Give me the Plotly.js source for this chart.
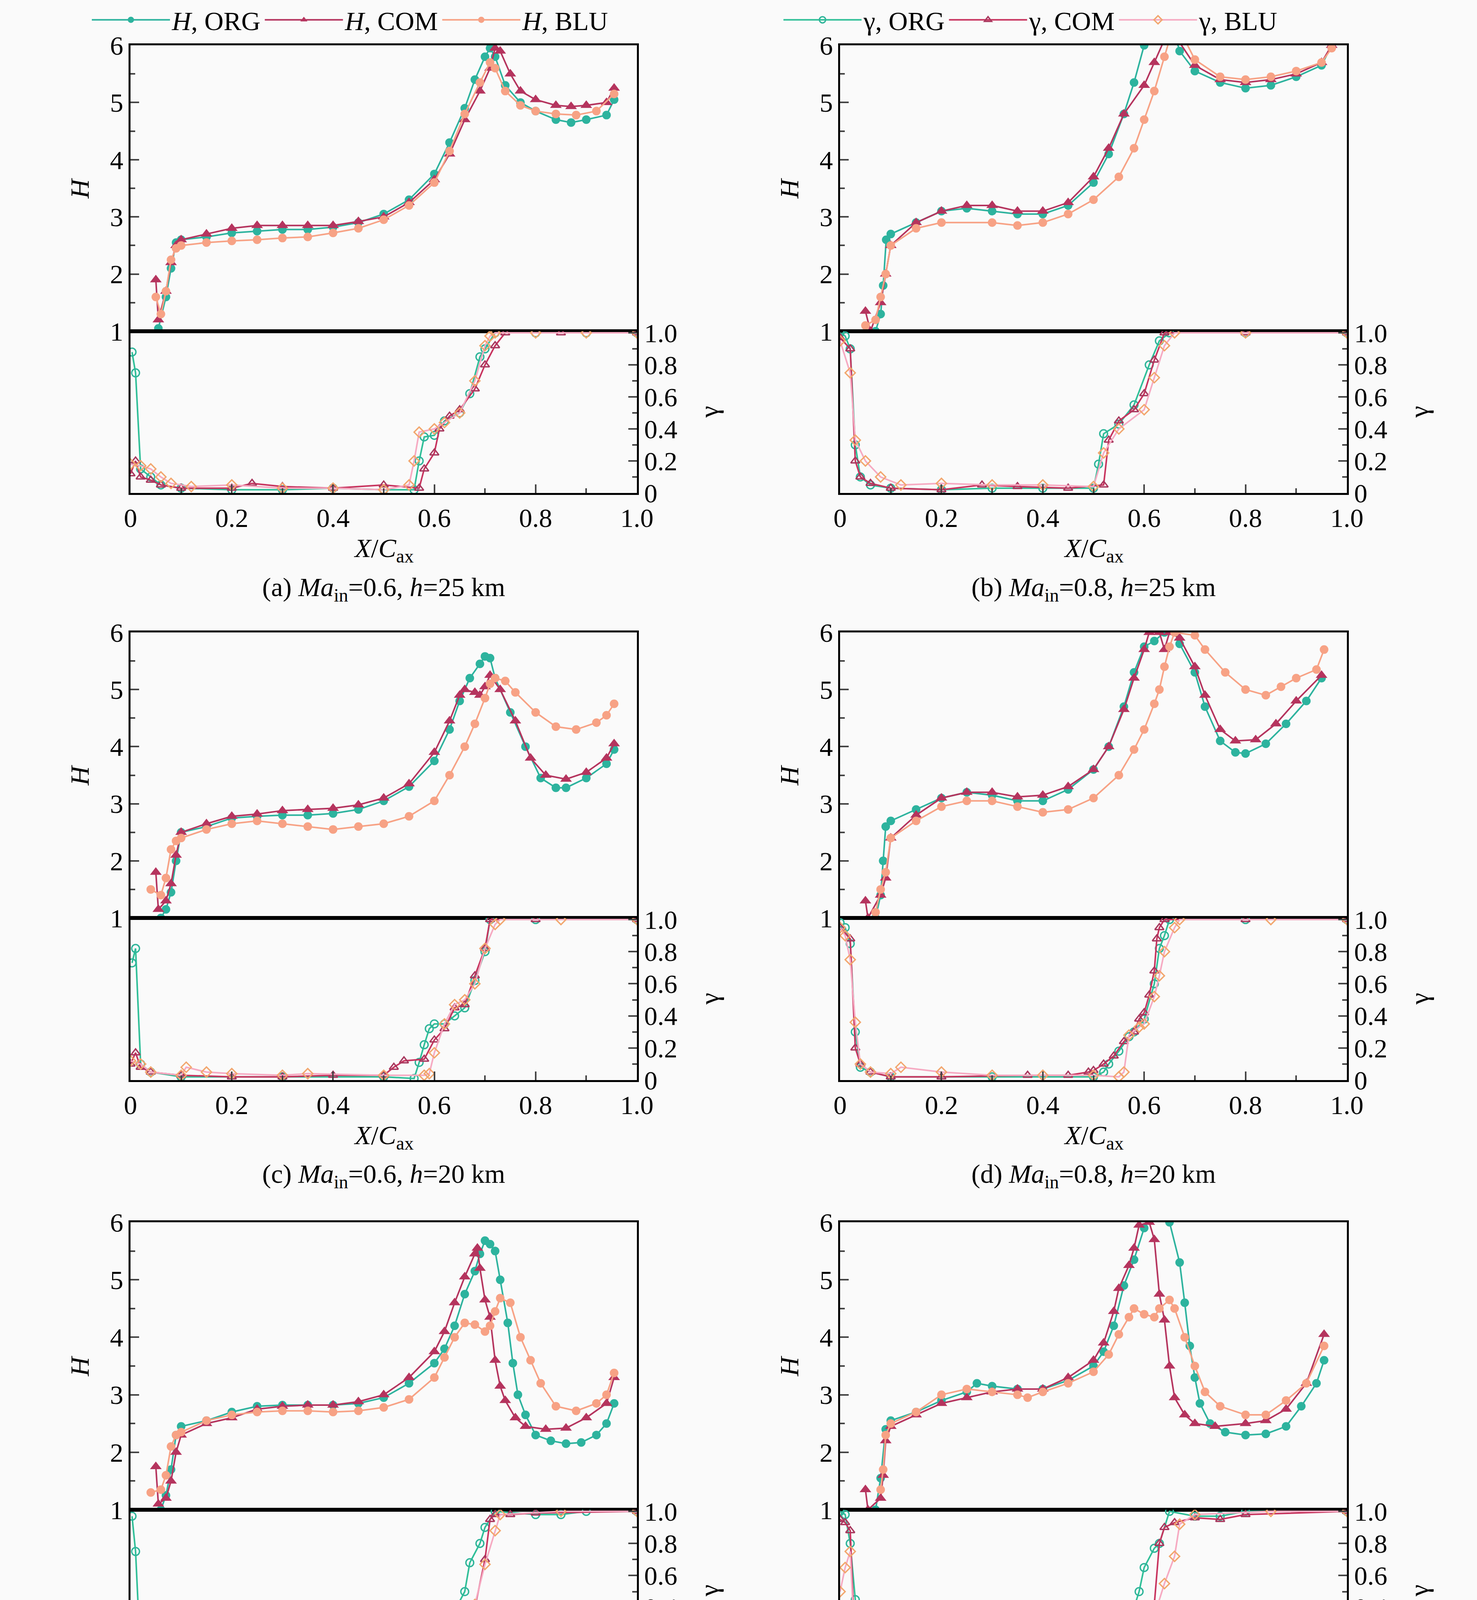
<!DOCTYPE html>
<html>
<head>
<meta charset="utf-8">
<script src="https://cdn.plot.ly/plotly-3.0.1.min.js"></script>
<style>
  html, body { margin: 0; padding: 0; background: #fafafa; }
  #chart { width: 3780px; height: 6071px; }
</style>
</head>
<body>
<div id="chart"></div>
<script>
// ---- data: [X/Cax, value] ----
// (a) Ma=0.6, h=25 km
const aHorg = [[0.055,1.05],[0.07,1.6],[0.08,2.1],[0.09,2.55],[0.1,2.6],[0.15,2.65],[0.2,2.72],[0.25,2.75],[0.3,2.78],[0.35,2.78],[0.4,2.82],[0.45,2.9],[0.5,3.05],[0.55,3.3],[0.6,3.75],[0.63,4.3],[0.66,4.9],[0.68,5.4],[0.7,5.8],[0.71,5.95],[0.72,5.8],[0.74,5.3],[0.77,5.0],[0.8,4.85],[0.84,4.7],[0.87,4.65],[0.9,4.7],[0.94,4.78],[0.955,5.05]];
const aHcom = [[0.05,1.9],[0.055,1.2],[0.07,1.7],[0.08,2.2],[0.09,2.5],[0.1,2.6],[0.15,2.7],[0.2,2.8],[0.25,2.85],[0.3,2.85],[0.35,2.85],[0.4,2.85],[0.45,2.92],[0.5,3.0],[0.55,3.25],[0.6,3.65],[0.63,4.1],[0.66,4.7],[0.69,5.2],[0.71,5.6],[0.72,5.95],[0.73,5.9],[0.75,5.5],[0.77,5.2],[0.8,5.05],[0.84,4.95],[0.87,4.93],[0.9,4.95],[0.94,5.0],[0.955,5.25]];
const aHblu = [[0.05,1.6],[0.06,1.3],[0.07,1.7],[0.08,2.25],[0.09,2.45],[0.1,2.5],[0.15,2.55],[0.2,2.58],[0.25,2.6],[0.3,2.63],[0.35,2.65],[0.4,2.72],[0.45,2.8],[0.5,2.95],[0.55,3.2],[0.6,3.6],[0.63,4.15],[0.66,4.8],[0.69,5.35],[0.71,5.7],[0.72,5.6],[0.74,5.2],[0.77,4.95],[0.8,4.85],[0.84,4.8],[0.88,4.78],[0.92,4.85],[0.955,5.15]];
const aGorg = [[0.003,0.88],[0.01,0.75],[0.02,0.15],[0.04,0.1],[0.06,0.05],[0.1,0.03],[0.2,0.02],[0.3,0.02],[0.4,0.03],[0.5,0.02],[0.56,0.02],[0.57,0.2],[0.58,0.35],[0.6,0.36],[0.62,0.45],[0.65,0.5],[0.67,0.62],[0.69,0.85],[0.7,0.9],[0.72,1.0],[0.8,1.0],[0.9,1.0],[1.0,1.0]];
const aGcom = [[0.0,0.12],[0.01,0.2],[0.02,0.1],[0.04,0.08],[0.06,0.05],[0.1,0.03],[0.2,0.03],[0.24,0.06],[0.3,0.04],[0.4,0.03],[0.5,0.05],[0.57,0.03],[0.58,0.15],[0.6,0.25],[0.61,0.4],[0.63,0.48],[0.65,0.52],[0.68,0.65],[0.7,0.8],[0.72,0.92],[0.74,1.0],[0.85,1.0],[1.0,1.0]];
const aGblu = [[0.0,0.18],[0.02,0.17],[0.04,0.15],[0.06,0.1],[0.08,0.06],[0.12,0.04],[0.2,0.05],[0.3,0.03],[0.4,0.03],[0.5,0.02],[0.55,0.05],[0.56,0.2],[0.57,0.38],[0.6,0.4],[0.62,0.44],[0.65,0.5],[0.68,0.7],[0.7,0.92],[0.71,0.98],[0.72,1.0],[0.8,1.0],[0.9,1.0],[1.0,1.0]];
// (b) Ma=0.8, h=25 km
const bHorg = [[0.07,1.0],[0.08,1.3],[0.085,1.8],[0.091,2.6],[0.1,2.7],[0.15,2.9],[0.2,3.1],[0.25,3.15],[0.3,3.1],[0.35,3.05],[0.4,3.05],[0.45,3.2],[0.5,3.6],[0.53,4.1],[0.56,4.8],[0.58,5.35],[0.6,6.0],[0.63,6.5],[0.66,6.2],[0.67,5.9],[0.7,5.55],[0.75,5.35],[0.8,5.25],[0.85,5.3],[0.9,5.45],[0.95,5.65],[0.97,6.0]];
const bHcom = [[0.05,1.35],[0.06,1.0],[0.08,1.5],[0.09,2.0],[0.1,2.5],[0.15,2.9],[0.2,3.1],[0.25,3.2],[0.3,3.2],[0.35,3.1],[0.4,3.1],[0.45,3.25],[0.5,3.7],[0.53,4.2],[0.56,4.8],[0.6,5.3],[0.62,5.7],[0.64,6.1],[0.66,6.3],[0.67,6.05],[0.7,5.65],[0.75,5.4],[0.8,5.35],[0.85,5.4],[0.9,5.5],[0.95,5.7],[0.97,6.0]];
const bHblu = [[0.05,1.1],[0.07,1.2],[0.08,1.6],[0.09,2.0],[0.1,2.5],[0.15,2.8],[0.2,2.9],[0.3,2.9],[0.35,2.85],[0.4,2.9],[0.45,3.05],[0.5,3.3],[0.55,3.7],[0.58,4.2],[0.6,4.7],[0.62,5.2],[0.64,5.8],[0.65,6.1],[0.68,6.1],[0.7,5.75],[0.75,5.45],[0.8,5.4],[0.85,5.45],[0.9,5.55],[0.95,5.7],[0.97,5.95]];
const bGorg = [[0.0,1.0],[0.01,0.98],[0.02,0.9],[0.03,0.3],[0.04,0.1],[0.06,0.05],[0.1,0.03],[0.2,0.02],[0.3,0.03],[0.4,0.03],[0.5,0.03],[0.51,0.18],[0.52,0.37],[0.55,0.43],[0.58,0.55],[0.61,0.8],[0.63,0.95],[0.65,1.0],[0.8,1.0],[1.0,1.0]];
const bGcom = [[0.0,0.97],[0.02,0.9],[0.03,0.2],[0.04,0.1],[0.06,0.06],[0.1,0.03],[0.2,0.02],[0.28,0.05],[0.35,0.04],[0.45,0.03],[0.52,0.05],[0.53,0.33],[0.55,0.45],[0.58,0.52],[0.6,0.62],[0.62,0.83],[0.64,1.0],[0.8,1.0],[1.0,1.0]];
const bGblu = [[0.0,0.95],[0.02,0.75],[0.03,0.33],[0.05,0.2],[0.08,0.1],[0.12,0.05],[0.2,0.06],[0.3,0.05],[0.4,0.05],[0.5,0.04],[0.52,0.25],[0.55,0.4],[0.6,0.52],[0.62,0.72],[0.64,0.92],[0.66,1.0],[0.8,1.0],[1.0,1.0]];
// (c) Ma=0.6, h=20 km
const cHorg = [[0.06,1.0],[0.07,1.15],[0.08,1.45],[0.09,2.0],[0.1,2.5],[0.15,2.6],[0.2,2.75],[0.25,2.78],[0.3,2.8],[0.35,2.8],[0.4,2.83],[0.45,2.9],[0.5,3.05],[0.55,3.3],[0.6,3.75],[0.63,4.3],[0.65,4.8],[0.67,5.2],[0.69,5.45],[0.7,5.58],[0.71,5.55],[0.72,5.2],[0.75,4.6],[0.78,4.0],[0.81,3.45],[0.84,3.28],[0.86,3.28],[0.9,3.45],[0.94,3.7],[0.955,3.95]];
const cHcom = [[0.05,1.8],[0.055,1.15],[0.07,1.3],[0.08,1.6],[0.09,2.1],[0.1,2.5],[0.15,2.65],[0.2,2.78],[0.25,2.82],[0.3,2.88],[0.35,2.9],[0.4,2.92],[0.45,2.98],[0.5,3.1],[0.55,3.35],[0.6,3.9],[0.63,4.45],[0.65,4.9],[0.66,5.0],[0.68,4.95],[0.69,4.9],[0.7,5.05],[0.71,5.25],[0.73,5.0],[0.76,4.45],[0.79,3.8],[0.82,3.5],[0.86,3.43],[0.9,3.55],[0.94,3.8],[0.955,4.05]];
const cHblu = [[0.04,1.5],[0.06,1.4],[0.07,1.7],[0.08,2.2],[0.09,2.35],[0.1,2.4],[0.15,2.55],[0.2,2.65],[0.25,2.7],[0.3,2.65],[0.35,2.6],[0.4,2.55],[0.45,2.6],[0.5,2.65],[0.55,2.78],[0.6,3.05],[0.63,3.5],[0.66,4.0],[0.68,4.4],[0.7,4.85],[0.71,5.1],[0.72,5.2],[0.74,5.15],[0.76,4.95],[0.8,4.6],[0.84,4.35],[0.88,4.3],[0.92,4.42],[0.94,4.55],[0.955,4.75]];
const cGorg = [[0.003,0.73],[0.01,0.82],[0.02,0.1],[0.04,0.05],[0.1,0.02],[0.3,0.02],[0.5,0.02],[0.56,0.01],[0.57,0.11],[0.58,0.22],[0.59,0.32],[0.6,0.35],[0.62,0.35],[0.64,0.4],[0.66,0.45],[0.68,0.62],[0.7,0.8],[0.71,1.0],[0.8,1.0],[1.0,1.0]];
const cGcom = [[0.0,0.1],[0.01,0.17],[0.02,0.08],[0.04,0.05],[0.1,0.03],[0.2,0.02],[0.3,0.02],[0.4,0.03],[0.5,0.03],[0.52,0.08],[0.54,0.12],[0.58,0.13],[0.6,0.25],[0.62,0.32],[0.64,0.45],[0.66,0.47],[0.68,0.65],[0.7,0.82],[0.71,1.0],[0.8,1.0],[1.0,1.0]];
const cGblu = [[0.0,0.12],[0.02,0.1],[0.04,0.05],[0.1,0.03],[0.11,0.08],[0.15,0.05],[0.2,0.04],[0.3,0.03],[0.35,0.04],[0.5,0.03],[0.58,0.03],[0.59,0.04],[0.6,0.17],[0.62,0.35],[0.64,0.47],[0.66,0.5],[0.68,0.6],[0.7,0.82],[0.72,0.97],[0.73,1.0],[0.85,1.0],[1.0,1.0]];
// (d) Ma=0.8, h=20 km
const dHorg = [[0.07,1.0],[0.08,1.4],[0.085,2.0],[0.09,2.6],[0.1,2.7],[0.15,2.9],[0.2,3.1],[0.25,3.2],[0.3,3.15],[0.35,3.05],[0.4,3.05],[0.45,3.25],[0.5,3.6],[0.53,4.0],[0.56,4.7],[0.58,5.3],[0.6,5.75],[0.62,5.85],[0.64,6.0],[0.66,6.0],[0.67,5.8],[0.7,5.3],[0.72,4.7],[0.75,4.1],[0.78,3.9],[0.8,3.88],[0.84,4.05],[0.88,4.4],[0.92,4.8],[0.95,5.2]];
const dHcom = [[0.05,1.3],[0.055,1.0],[0.08,1.4],[0.09,1.7],[0.1,2.4],[0.15,2.8],[0.2,3.1],[0.25,3.2],[0.3,3.2],[0.35,3.12],[0.4,3.15],[0.45,3.3],[0.5,3.6],[0.53,4.0],[0.56,4.65],[0.58,5.2],[0.6,5.7],[0.61,6.0],[0.63,6.0],[0.64,5.7],[0.65,6.0],[0.67,5.9],[0.7,5.4],[0.72,4.9],[0.75,4.3],[0.78,4.1],[0.82,4.12],[0.86,4.4],[0.9,4.8],[0.95,5.25]];
const dHblu = [[0.07,1.1],[0.08,1.5],[0.09,1.8],[0.1,2.4],[0.15,2.7],[0.2,2.95],[0.25,3.05],[0.3,3.05],[0.35,2.95],[0.4,2.85],[0.45,2.9],[0.5,3.1],[0.55,3.5],[0.58,3.95],[0.6,4.3],[0.62,4.75],[0.63,5.0],[0.64,5.4],[0.65,5.75],[0.66,6.0],[0.7,5.95],[0.72,5.7],[0.76,5.3],[0.8,5.0],[0.84,4.9],[0.87,5.05],[0.9,5.2],[0.94,5.35],[0.955,5.7]];
const dGorg = [[0.0,0.98],[0.01,0.95],[0.02,0.85],[0.03,0.3],[0.04,0.08],[0.06,0.05],[0.1,0.02],[0.3,0.02],[0.5,0.02],[0.52,0.05],[0.53,0.1],[0.55,0.18],[0.57,0.27],[0.58,0.3],[0.6,0.38],[0.62,0.6],[0.63,0.82],[0.64,0.9],[0.65,1.0],[0.8,1.0],[1.0,1.0]];
const dGcom = [[0.0,0.95],[0.02,0.88],[0.03,0.2],[0.04,0.1],[0.06,0.05],[0.1,0.02],[0.2,0.02],[0.37,0.03],[0.45,0.03],[0.49,0.05],[0.5,0.06],[0.52,0.1],[0.54,0.15],[0.56,0.24],[0.58,0.3],[0.59,0.38],[0.6,0.42],[0.61,0.53],[0.62,0.68],[0.625,0.88],[0.63,0.95],[0.64,1.0],[0.8,1.0],[1.0,1.0]];
const dGblu = [[0.0,0.95],[0.01,0.9],[0.02,0.75],[0.03,0.36],[0.04,0.1],[0.06,0.05],[0.1,0.04],[0.12,0.08],[0.2,0.05],[0.3,0.03],[0.4,0.03],[0.5,0.03],[0.55,0.02],[0.56,0.05],[0.57,0.28],[0.59,0.33],[0.6,0.35],[0.62,0.52],[0.63,0.65],[0.64,0.8],[0.66,0.95],[0.67,1.0],[0.85,1.0],[1.0,1.0]];
// (e) Ma=0.6, h=15 km
const eHorg = [[0.06,1.0],[0.07,1.25],[0.08,1.7],[0.09,2.3],[0.1,2.45],[0.15,2.55],[0.2,2.7],[0.25,2.8],[0.3,2.82],[0.35,2.82],[0.4,2.82],[0.45,2.85],[0.5,2.95],[0.55,3.2],[0.6,3.55],[0.62,3.8],[0.64,4.2],[0.66,4.75],[0.68,5.15],[0.69,5.45],[0.7,5.68],[0.71,5.62],[0.72,5.5],[0.73,5.0],[0.745,4.25],[0.755,3.55],[0.765,3.0],[0.78,2.65],[0.8,2.3],[0.83,2.2],[0.86,2.15],[0.89,2.17],[0.92,2.3],[0.94,2.5],[0.955,2.85]];
const eHcom = [[0.05,1.75],[0.055,1.1],[0.07,1.2],[0.08,1.5],[0.09,2.0],[0.1,2.3],[0.15,2.5],[0.2,2.6],[0.25,2.75],[0.3,2.8],[0.35,2.82],[0.4,2.82],[0.45,2.88],[0.5,3.0],[0.55,3.3],[0.6,3.75],[0.62,4.1],[0.64,4.6],[0.66,5.05],[0.68,5.45],[0.685,5.55],[0.69,5.2],[0.7,4.65],[0.71,4.35],[0.72,3.6],[0.73,3.15],[0.74,2.9],[0.76,2.6],[0.78,2.45],[0.82,2.4],[0.86,2.42],[0.9,2.6],[0.94,2.85],[0.955,3.3]];
const eHblu = [[0.04,1.3],[0.06,1.35],[0.07,1.6],[0.08,2.1],[0.09,2.3],[0.1,2.35],[0.15,2.55],[0.2,2.65],[0.25,2.7],[0.3,2.72],[0.35,2.72],[0.4,2.7],[0.45,2.72],[0.5,2.78],[0.55,2.92],[0.6,3.3],[0.62,3.65],[0.64,4.0],[0.66,4.25],[0.68,4.22],[0.7,4.1],[0.71,4.2],[0.72,4.45],[0.73,4.68],[0.75,4.6],[0.77,4.0],[0.79,3.6],[0.81,3.2],[0.84,2.8],[0.88,2.72],[0.92,2.85],[0.94,3.0],[0.955,3.38]];
const eGorg = [[0.003,0.97],[0.01,0.75],[0.02,0.08],[0.04,0.03],[0.1,0.02],[0.3,0.01],[0.5,0.01],[0.54,0.02],[0.56,0.06],[0.6,0.12],[0.62,0.22],[0.64,0.38],[0.66,0.5],[0.67,0.68],[0.69,0.8],[0.7,0.9],[0.72,1.0],[0.8,0.98],[0.85,0.98],[0.9,1.0],[1.0,1.0]];
const eGcom = [[0.0,0.05],[0.01,0.2],[0.02,0.15],[0.04,0.05],[0.1,0.02],[0.2,0.02],[0.3,0.02],[0.5,0.01],[0.53,0.05],[0.55,0.12],[0.58,0.15],[0.6,0.16],[0.62,0.2],[0.64,0.28],[0.66,0.33],[0.68,0.4],[0.7,0.7],[0.71,0.95],[0.72,0.98],[0.75,0.98],[0.8,0.99],[1.0,1.0]];
const eGblu = [[0.0,0.1],[0.02,0.08],[0.04,0.04],[0.06,0.03],[0.1,0.03],[0.2,0.04],[0.3,0.03],[0.5,0.02],[0.55,0.02],[0.6,0.06],[0.62,0.16],[0.64,0.2],[0.66,0.25],[0.68,0.42],[0.7,0.67],[0.72,0.88],[0.73,0.98],[0.85,1.0],[1.0,1.0]];
// (f) Ma=0.8, h=15 km
const fHorg = [[0.07,1.0],[0.08,1.55],[0.09,2.4],[0.1,2.55],[0.15,2.7],[0.2,2.9],[0.25,3.05],[0.27,3.2],[0.3,3.15],[0.35,3.1],[0.4,3.1],[0.45,3.25],[0.5,3.5],[0.52,3.75],[0.54,4.2],[0.56,4.9],[0.58,5.35],[0.6,5.9],[0.61,6.1],[0.64,6.5],[0.65,6.0],[0.67,5.3],[0.68,4.6],[0.69,3.85],[0.7,3.3],[0.71,2.85],[0.73,2.5],[0.76,2.35],[0.8,2.3],[0.84,2.32],[0.88,2.45],[0.91,2.8],[0.94,3.2],[0.955,3.6]];
const fHcom = [[0.05,1.35],[0.055,1.0],[0.08,1.2],[0.085,1.6],[0.09,2.2],[0.1,2.45],[0.15,2.65],[0.2,2.85],[0.25,2.95],[0.3,3.05],[0.35,3.1],[0.4,3.1],[0.45,3.3],[0.5,3.6],[0.52,3.9],[0.54,4.45],[0.55,4.85],[0.57,5.25],[0.58,5.55],[0.59,5.95],[0.61,6.0],[0.62,5.7],[0.63,4.75],[0.64,4.3],[0.65,3.5],[0.66,2.95],[0.68,2.65],[0.7,2.5],[0.74,2.45],[0.8,2.5],[0.84,2.55],[0.88,2.75],[0.92,3.2],[0.955,4.05]];
const fHblu = [[0.08,1.35],[0.085,1.7],[0.09,2.3],[0.1,2.5],[0.15,2.7],[0.2,3.0],[0.25,3.1],[0.3,3.05],[0.35,3.0],[0.37,2.95],[0.4,3.05],[0.45,3.2],[0.5,3.4],[0.53,3.7],[0.55,4.05],[0.57,4.35],[0.58,4.5],[0.6,4.4],[0.62,4.35],[0.63,4.5],[0.65,4.65],[0.66,4.5],[0.68,4.0],[0.7,3.5],[0.72,3.05],[0.75,2.8],[0.8,2.65],[0.84,2.65],[0.88,2.9],[0.92,3.2],[0.955,3.85]];
const fGorg = [[0.0,1.0],[0.01,0.98],[0.02,0.8],[0.03,0.45],[0.035,0.12],[0.05,0.05],[0.1,0.03],[0.3,0.01],[0.45,0.01],[0.5,0.01],[0.53,0.1],[0.55,0.2],[0.57,0.3],[0.59,0.5],[0.6,0.65],[0.62,0.77],[0.63,0.8],[0.65,1.0],[0.7,0.97],[0.75,0.97],[0.8,1.0],[1.0,1.0]];
const fGcom = [[0.0,0.95],[0.01,0.93],[0.02,0.88],[0.03,0.1],[0.05,0.05],[0.1,0.02],[0.3,0.02],[0.45,0.02],[0.5,0.04],[0.52,0.15],[0.54,0.17],[0.56,0.25],[0.58,0.36],[0.6,0.38],[0.62,0.42],[0.63,0.8],[0.64,0.9],[0.66,0.93],[0.7,0.96],[0.75,0.95],[0.8,0.98],[1.0,1.0]];
const fGblu = [[0.0,0.5],[0.01,0.65],[0.02,0.75],[0.03,0.1],[0.05,0.05],[0.1,0.03],[0.2,0.02],[0.25,0.04],[0.3,0.04],[0.4,0.03],[0.48,0.02],[0.5,0.05],[0.53,0.07],[0.55,0.12],[0.57,0.18],[0.6,0.22],[0.62,0.35],[0.64,0.55],[0.66,0.72],[0.67,0.92],[0.7,0.98],[0.85,1.0],[1.0,1.0]];
// (g) Ma=0.6, h=10 km
const gHorg = [[0.07,1.0],[0.075,1.45],[0.08,2.2],[0.09,2.35],[0.1,2.35],[0.15,2.5],[0.2,2.6],[0.25,2.65],[0.3,2.75],[0.35,2.78],[0.4,2.85],[0.45,2.95],[0.5,3.1],[0.55,3.35],[0.58,3.75],[0.6,4.1],[0.62,4.5],[0.64,4.95],[0.66,5.08],[0.67,5.08],[0.68,4.8],[0.69,3.85],[0.7,2.85],[0.71,2.45],[0.72,2.25],[0.74,2.05],[0.78,1.95],[0.82,1.92],[0.86,1.95],[0.9,1.92],[0.94,2.15],[0.955,2.55]];
const gHcom = [[0.05,1.7],[0.055,1.05],[0.07,1.3],[0.08,1.85],[0.09,2.1],[0.1,2.2],[0.15,2.35],[0.2,2.55],[0.25,2.7],[0.3,2.72],[0.35,2.75],[0.4,2.85],[0.45,2.95],[0.5,3.1],[0.55,3.4],[0.58,3.8],[0.6,4.2],[0.62,4.65],[0.64,4.88],[0.66,4.88],[0.67,4.2],[0.68,3.3],[0.69,2.55],[0.7,2.25],[0.72,2.0],[0.76,1.92],[0.8,1.88],[0.86,1.88],[0.9,1.88],[0.94,2.1],[0.955,2.5]];
const gHblu = [[0.05,1.15],[0.06,1.3],[0.07,1.55],[0.08,2.0],[0.09,2.15],[0.1,2.2],[0.15,2.4],[0.2,2.6],[0.25,2.75],[0.3,2.78],[0.35,2.78],[0.4,2.8],[0.45,2.9],[0.5,3.0],[0.55,3.25],[0.58,3.5],[0.6,3.75],[0.62,3.85],[0.64,3.95],[0.65,3.85],[0.66,3.3],[0.67,2.5],[0.68,2.2],[0.7,2.05],[0.74,1.98],[0.8,2.0],[0.86,2.02],[0.9,2.05],[0.93,2.3],[0.955,2.83]];
const gGorg = [[0.003,0.56],[0.01,0.7],[0.02,0.1],[0.04,0.04],[0.08,0.02],[0.2,0.01],[0.3,0.01],[0.4,0.01],[0.46,0.01],[0.5,0.05],[0.52,0.1],[0.56,0.12],[0.6,0.13],[0.62,0.25],[0.64,0.33],[0.66,0.42],[0.68,0.45],[0.69,0.5],[0.7,0.72],[0.71,0.89],[0.72,0.8],[0.74,0.86],[0.78,0.86],[0.8,0.9],[0.84,0.98],[0.9,1.0],[1.0,1.0]];
const gGcom = [[0.0,0.1],[0.01,0.13],[0.03,0.06],[0.06,0.02],[0.2,0.01],[0.3,0.01],[0.4,0.03],[0.46,0.03],[0.5,0.1],[0.55,0.15],[0.58,0.18],[0.6,0.3],[0.62,0.47],[0.64,0.55],[0.66,0.65],[0.67,0.67],[0.68,0.6],[0.69,0.85],[0.7,0.95],[0.72,0.93],[0.76,0.96],[0.8,0.96],[0.82,0.98],[0.84,1.0],[1.0,1.0]];
const gGblu = [[0.0,0.08],[0.02,0.08],[0.04,0.04],[0.1,0.02],[0.2,0.02],[0.3,0.02],[0.35,0.05],[0.4,0.07],[0.45,0.09],[0.5,0.1],[0.55,0.1],[0.6,0.12],[0.64,0.17],[0.66,0.21],[0.68,0.33],[0.7,0.65],[0.72,0.75],[0.76,0.8],[0.8,0.88],[0.84,0.98],[0.9,1.0],[1.0,1.0]];
// (h) Ma=0.8, h=10 km
const hHorg = [[0.08,1.0],[0.085,1.25],[0.09,2.4],[0.1,2.55],[0.12,2.6],[0.15,2.75],[0.17,2.85],[0.2,2.95],[0.25,3.05],[0.3,3.1],[0.35,3.05],[0.4,3.05],[0.43,3.2],[0.45,3.35],[0.48,3.55],[0.5,3.85],[0.52,4.25],[0.54,4.75],[0.56,5.25],[0.58,5.65],[0.59,5.85],[0.6,5.75],[0.61,4.85],[0.62,3.5],[0.63,2.8],[0.64,2.5],[0.66,2.3],[0.7,2.1],[0.75,2.05],[0.8,2.05],[0.85,2.05],[0.9,2.15],[0.93,2.4],[0.955,3.15]];
const hHcom = [[0.05,1.3],[0.055,1.0],[0.08,1.0],[0.085,1.4],[0.09,2.1],[0.1,2.3],[0.15,2.55],[0.2,2.85],[0.25,3.0],[0.3,3.02],[0.35,3.0],[0.4,3.05],[0.42,3.2],[0.45,3.3],[0.48,3.5],[0.5,3.75],[0.52,4.2],[0.54,4.65],[0.56,5.15],[0.57,5.45],[0.58,5.55],[0.585,5.35],[0.6,4.35],[0.61,3.25],[0.62,2.65],[0.64,2.35],[0.68,2.15],[0.72,2.05],[0.8,2.0],[0.86,2.02],[0.9,2.05],[0.93,2.35],[0.955,3.0]];
const hHblu = [[0.08,1.25],[0.085,1.6],[0.09,2.2],[0.1,2.3],[0.15,2.55],[0.2,2.9],[0.25,3.1],[0.3,3.2],[0.35,3.15],[0.4,3.15],[0.42,3.25],[0.45,3.35],[0.5,3.6],[0.53,3.9],[0.56,4.25],[0.58,4.55],[0.585,4.7],[0.59,4.35],[0.6,3.1],[0.61,2.5],[0.63,2.3],[0.66,2.18],[0.7,2.1],[0.75,2.1],[0.8,2.1],[0.85,2.15],[0.9,2.3],[0.93,2.6],[0.955,3.35]];
const hGorg = [[0.0,1.0],[0.01,0.98],[0.02,0.95],[0.03,0.63],[0.035,0.15],[0.05,0.05],[0.1,0.02],[0.3,0.01],[0.4,0.01],[0.45,0.02],[0.48,0.05],[0.5,0.1],[0.52,0.15],[0.54,0.22],[0.56,0.3],[0.58,0.38],[0.6,0.48],[0.61,0.75],[0.63,0.8],[0.65,0.84],[0.68,0.88],[0.7,0.9],[0.73,0.97],[0.8,0.98],[1.0,1.0]];
const hGcom = [[0.0,0.92],[0.01,0.95],[0.02,0.9],[0.03,0.15],[0.05,0.05],[0.1,0.02],[0.3,0.01],[0.4,0.01],[0.45,0.02],[0.48,0.1],[0.5,0.15],[0.52,0.2],[0.53,0.25],[0.54,0.35],[0.55,0.45],[0.56,0.55],[0.57,0.63],[0.58,0.72],[0.59,0.69],[0.6,0.65],[0.61,1.0],[0.63,0.95],[0.66,0.93],[0.7,0.95],[0.72,0.97],[0.75,1.0],[0.8,0.98],[1.0,0.98]];
const hGblu = [[0.0,0.5],[0.01,0.65],[0.02,0.78],[0.03,0.15],[0.05,0.04],[0.1,0.02],[0.3,0.01],[0.4,0.02],[0.42,0.05],[0.45,0.08],[0.5,0.12],[0.55,0.17],[0.58,0.2],[0.59,0.25],[0.6,0.45],[0.61,0.6],[0.63,0.72],[0.66,0.77],[0.7,0.85],[0.74,0.95],[0.8,1.0],[1.0,1.0]];

const captions = [
  '(a) <i>Ma</i><sub>in</sub>=0.6, <i>h</i>=25 km', '(b) <i>Ma</i><sub>in</sub>=0.8, <i>h</i>=25 km',
  '(c) <i>Ma</i><sub>in</sub>=0.6, <i>h</i>=20 km', '(d) <i>Ma</i><sub>in</sub>=0.8, <i>h</i>=20 km',
  '(e) <i>Ma</i><sub>in</sub>=0.6, <i>h</i>=15 km', '(f) <i>Ma</i><sub>in</sub>=0.8, <i>h</i>=15 km',
  '(g) <i>Ma</i><sub>in</sub>=0.6, <i>h</i>=10 km', '(h) <i>Ma</i><sub>in</sub>=0.8, <i>h</i>=10 km',
];
const panelData = [
  [aHorg, aHcom, aHblu, aGorg, aGcom, aGblu], [bHorg, bHcom, bHblu, bGorg, bGcom, bGblu],
  [cHorg, cHcom, cHblu, cGorg, cGcom, cGblu], [dHorg, dHcom, dHblu, dGorg, dGcom, dGblu],
  [eHorg, eHcom, eHblu, eGorg, eGcom, eGblu], [fHorg, fHcom, fHblu, fGorg, fGcom, fGblu],
  [gHorg, gHcom, gHblu, gGorg, gGcom, gGblu], [hHorg, hHcom, hHblu, hGorg, hGcom, hGblu],
];
const xTicks = [0, 0.2, 0.4, 0.6, 0.8, 1.0];
const xTickText = ['0', '0.2', '0.4', '0.6', '0.8', '1.0'];
const gTicks = [0, 0.2, 0.4, 0.6, 0.8, 1.0];
const gTickText = ['0', '0.2', '0.4', '0.6', '0.8', '1.0'];

// ---- geometry (pixels of the 3780x6071 page) ----
const W = 3780, H = 6071;
const COLS = [[334, 1630], [2150, 3447]];
const ROWS = [[116, 848, 1262], [1619, 2350, 2765], [3129, 3865, 4280], [4636, 5368, 5784]];
const FONT = 'Liberation Serif, Times New Roman, serif';
const FS = 68;

const hStyle = [
  { name: '<i>H</i>, ORG', color: '#2db39e', symbol: 'circle' },
  { name: '<i>H</i>, COM', color: '#b5345e', symbol: 'triangle-up' },
  { name: '<i>H</i>, BLU', color: '#f7a285', symbol: 'circle' },
];
const gStyle = [
  { name: 'γ, ORG', line: '#30bf98', mark: '#2fb59a', symbol: 'circle-open' },
  { name: 'γ, COM', line: '#c8345f', mark: '#a8385e', symbol: 'triangle-up-open' },
  { name: 'γ, BLU', line: '#f6aac2', mark: '#f2a66e', symbol: 'diamond-open' },
];

const px = v => v / W;
const py = v => 1 - v / H;

const traces = [];
const layout = {
  width: W, height: H,
  margin: { l: 0, r: 0, t: 0, b: 0 },
  paper_bgcolor: '#fafafa', plot_bgcolor: '#fafafa',
  font: { family: FONT, size: FS, color: '#000' },
  showlegend: true,
  legend: { orientation: 'h', x: px(230), y: py(0), xanchor: 'left', yanchor: 'top',
    itemwidth: 200, font: { size: FS }, bgcolor: 'rgba(0,0,0,0)' },
  legend2: { orientation: 'h', x: px(2000), y: py(0), xanchor: 'left', yanchor: 'top',
    itemwidth: 200, font: { size: FS }, bgcolor: 'rgba(0,0,0,0)' },
  annotations: [],
};

panelData.forEach((series, p) => {
  const col = COLS[p % 2], row = ROWS[Math.floor(p / 2)];
  const iH = 2 * p + 1, iG = 2 * p + 2;
  const xd = [px(col[0]), px(col[1])];
  const baseX = { range: [0, 1], domain: xd, showline: true, mirror: true, linecolor: '#000',
    linewidth: 5, showgrid: false, zeroline: false };

  layout['xaxis' + iH] = { ...baseX, anchor: 'y' + iH, ticks: '', showticklabels: false };
  layout['yaxis' + iH] = { range: [1, 6], domain: [py(row[1]), py(row[0])], anchor: 'x' + iH,
    showline: true, mirror: true, linecolor: '#000', linewidth: 5, showgrid: false, zeroline: false,
    ticks: 'inside', ticklen: 22, tickwidth: 4, dtick: 1, tick0: 1,
    minor: { dtick: 0.5, ticks: 'inside', ticklen: 12, tickwidth: 4 },
    tickfont: { size: FS } };
  layout['xaxis' + iG] = { ...baseX, anchor: 'y' + iG, ticks: 'inside', ticklen: 22, tickwidth: 4,
    tickvals: xTicks, ticktext: xTickText, tickfont: { size: FS },
    minor: { tickvals: [0.1, 0.3, 0.5, 0.7, 0.9], ticks: 'inside', ticklen: 12, tickwidth: 4 } };
  layout['yaxis' + iG] = { range: [0, 1.01], domain: [py(row[2]), py(row[1])], anchor: 'x' + iG,
    side: 'right', showline: true, mirror: true, linecolor: '#000', linewidth: 5, showgrid: false,
    zeroline: false, ticks: 'inside', ticklen: 22, tickwidth: 4, tickvals: gTicks, ticktext: gTickText,
    minor: { tickvals: [0.1, 0.3, 0.5, 0.7, 0.9], ticks: 'inside', ticklen: 12, tickwidth: 4 },
    tickfont: { size: FS } };

  series.slice(0, 3).forEach((s, k) => {
    const st = hStyle[k];
    traces.push({
      x: s.map(d => d[0]), y: s.map(d => d[1]), xaxis: 'x' + iH, yaxis: 'y' + iH,
      type: 'scatter', mode: 'lines+markers', name: st.name, legend: 'legend',
      showlegend: p === 0, line: { color: st.color, width: 4 },
      marker: { color: st.color, symbol: st.symbol, size: st.symbol === 'circle' ? 22 : 26 },
    });
  });
  series.slice(3).forEach((s, k) => {
    const st = gStyle[k];
    traces.push({
      x: s.map(d => d[0]), y: s.map(d => d[1]), xaxis: 'x' + iG, yaxis: 'y' + iG,
      type: 'scatter', mode: 'lines+markers', name: st.name, legend: 'legend2',
      showlegend: p === 0, line: { color: st.line, width: 4 },
      marker: { color: st.mark, symbol: st.symbol, size: 20, line: { color: st.mark, width: 3.5 } },
    });
  });

  const cx = px((col[0] + col[1]) / 2);
  layout.annotations.push(
    { text: captions[p], x: cx, y: py(row[2] + 245), xref: 'paper', yref: 'paper',
      showarrow: false, xanchor: 'center', yanchor: 'middle', font: { size: FS } },
    { text: '<i>X</i>/<i>C</i><sub>ax</sub>', x: cx, y: py(row[2] + 145), xref: 'paper', yref: 'paper',
      showarrow: false, xanchor: 'center', yanchor: 'middle', font: { size: FS } },
    { text: '<i>H</i>', x: px(col[0] - 130), y: py((row[0] + row[1]) / 2), xref: 'paper', yref: 'paper',
      showarrow: false, textangle: -90, xanchor: 'center', yanchor: 'middle', font: { size: FS } },
    { text: 'γ', x: px(col[1] + 185), y: py((row[1] + row[2]) / 2), xref: 'paper', yref: 'paper',
      showarrow: false, textangle: -90, xanchor: 'center', yanchor: 'middle', font: { size: FS } },
  );
});

Plotly.newPlot('chart', traces, layout, { displayModeBar: false, staticPlot: true });
</script>
</body>
</html>
